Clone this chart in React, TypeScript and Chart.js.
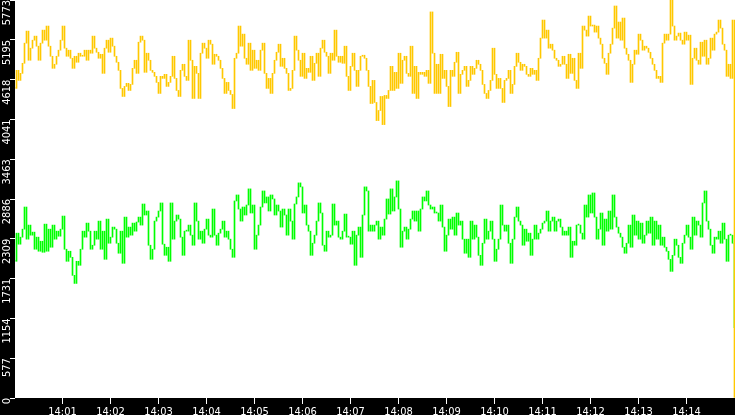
import { useEffect, useRef } from "react";
import { Chart, registerables } from "chart.js";

Chart.register(...registerables);

// seconds after 14:00:00, one sample every 2.5 s
const SAMPLE_STEP_SECONDS = 2.5;

const xTickSeconds = [60, 120, 180, 240, 300, 360, 420, 480, 540, 600, 660, 720, 780, 840];
const xTickLabels = ["14:01", "14:02", "14:03", "14:04", "14:05", "14:06", "14:07", "14:08", "14:09", "14:10", "14:11", "14:12", "14:13", "14:14"];
const yTickValues = [0, 577, 1154, 1731, 2309, 2886, 3463, 4041, 4618, 5195, 5773];

const yellowSeries = [
  4491, 4753, 4607, 4709, 4855, 5147, 5322, 4899, 5074, 5190,
  5249, 5103, 4899, 5147, 5336, 5190, 5395, 5103, 4957, 4782,
  4841, 4957, 5045, 5190, 5395, 5074, 4957, 5045, 4928, 4782,
  4957, 4870, 5001, 4957, 4957, 5045, 4899, 5045, 5001, 5249,
  5074, 5015, 4928, 4986, 4709, 5074, 5190, 5015, 5220, 5103,
  4957, 4870, 4753, 4491, 4374, 4520, 4564, 4461, 4549, 4782,
  4899, 4709, 5161, 5249, 5190, 4724, 5001, 4899, 4753, 4724,
  4666, 4578, 4418, 4666, 4636, 4695, 4520, 4578, 4666, 4957,
  4636, 4461, 4374, 4753, 4841, 4666, 4607, 5190, 4899, 4345,
  4811, 4709, 4345,
  5001, 5147, 5074, 4928, 5190, 5132, 4841, 4986, 4957, 4899,
  4782, 4636, 4418, 4578, 4461, 4403, 4199, 4928, 5001, 5395,
  5103, 5278, 4928, 4841, 5147, 4753, 5045, 4782, 4899, 4753,
  5045, 5147, 4709, 4491, 4636, 4418, 4709, 4899, 5015, 5132,
  4811, 4928, 4782, 4709, 4461, 4491, 4753, 5249, 5045, 4899,
  4666, 5001, 4636, 4782, 4724, 4957, 4607, 4855, 5001, 4666,
  5074, 5190, 5015, 4957, 4709, 5001, 4899, 5336, 4957, 4870,
  4957, 4855, 5103, 4666, 4461, 4811, 5001, 4753, 4520, 4753,
  4957, 4972, 4928, 4753, 4520, 4272, 4607, 4287, 4024, 4170,
  4374, 3966, 4389, 4345, 4461, 4811, 4461, 4724, 4491, 5001,
  4564, 4899, 4957, 4709, 4666, 5103, 4418, 4811, 4345, 4724,
  4695, 4724, 4666, 4753, 4564, 5600, 5001, 4418, 4841, 4418,
  4986, 4636, 4753, 4520, 4228, 4753, 4666, 4870, 5015, 4418,
  4695,
  4753, 4811, 4520, 4607, 4811, 4695, 4782, 4899, 4841, 4753,
  4549, 4418, 4345, 4461, 4607, 5074, 4695, 4491, 4636, 4491,
  4287, 4607, 4636, 4753, 4418, 4549, 4811, 5001, 4870, 4753,
  4841, 4811, 4695, 4666, 4782, 4695, 4753, 4607, 4928, 5220,
  5482, 5220, 5336, 5074, 5132, 5045, 4928, 4899, 4811, 4841,
  4957, 4841, 4636, 4986, 4709, 4928, 4607, 4491, 5001, 4782,
  5395, 5336, 5249, 5540, 5395, 5409, 5307, 5395, 5220, 5132,
  4928, 4855, 4695, 5001, 5132, 5365, 5686, 5220, 5453, 5190,
  5511, 5074, 4986, 4899, 4578, 4841, 5045, 4986, 5278, 5190,
  5045, 5103, 5074, 5015, 4928, 4841, 4753, 4636, 4666, 4578,
  5147, 5278, 5190, 5278, 5773, 5395, 5190, 5249, 5293, 5190,
  5132, 5307, 5190, 5263, 4549, 4928, 5074, 4899, 4841, 5161,
  4957, 5190, 4841, 4928, 5220, 5045, 5278, 5307, 5482, 5365,
  5132, 5045, 4666, 4841, 4636, 5482,
  0,
];

const greenSeries = [
  1983, 2391, 2231, 2333, 2449, 2770, 2304, 2508, 2362, 2406,
  2158, 2333, 2129, 2274, 2114, 2522, 2129, 2449, 2187, 2508,
  2304, 2420, 2347, 2449, 2639, 2158, 1983, 2129, 2041, 1779,
  1662, 1983, 1925, 2158, 2420, 2333, 2537, 2420, 2158, 2216,
  2420, 2304, 2566, 2158, 2420, 2012, 2595, 2245, 2333, 2479,
  2449, 2245, 2100, 2420, 1954, 2624, 2333, 2479, 2362, 2537,
  2420, 2552, 2624, 2508, 2814, 2654, 2712, 2216, 2012, 2158,
  2566, 2624, 2712, 2829, 2231, 2070, 2187, 1983, 2829, 2304,
  2566, 2654, 2595, 2333, 2070, 2420, 2420, 2508, 2362, 2216,
  2829, 2566, 2304, 2420, 2245, 2449, 2595, 2362, 2333, 2741,
  2362, 2216, 2391, 2449, 2566, 2333, 2420, 2304, 2158, 2041,
  2858, 2945, 2741, 2566, 2770, 2654, 2799, 3033, 2683, 2799,
  2158, 2362, 2508, 2770, 3003, 2829, 2916, 2712, 2945, 2887,
  2654, 2799, 2712, 2479, 2741, 2654, 2362, 2741, 2566, 2304,
  2814, 2916, 3120, 3062, 2683, 2799, 2508, 2420, 2070, 2245,
  2362, 2566, 2829, 2683, 2216, 2129, 2420, 2333, 2362, 2814,
  2508, 2566, 2333, 2304, 2420, 2668, 2333, 2333, 2231, 2420,
  1925, 2362, 2479, 2041, 2654, 3062, 3003, 2420, 2508, 2420,
  2508, 2566, 2304, 2479, 2362, 2595, 2887, 2668, 3033, 2712,
  2916, 3149, 2741, 2187, 2420, 2479, 2304, 2449, 2595, 2712,
  2566, 2712, 2420, 2741, 2916, 2858, 3003, 2799, 2741, 2770,
  2683, 2683, 2566, 2799, 2479, 2129, 2362, 2595, 2449, 2624,
  2362, 2683, 2508, 2566, 2304, 2100, 2304, 2041, 2566, 2304,
  2508, 2333, 2070, 1925, 2245, 2595, 2304, 2420, 2566, 2304,
  1983, 2158, 2304, 2799, 2508, 2420, 2508, 2245, 1954, 2304,
  2624, 2770, 2566, 2508, 2216, 2449, 2274, 2391, 2070, 2304,
  2508, 2304, 2391, 2449, 2537, 2566, 2712, 2420, 2566, 2624,
  2420, 2566, 2595, 2479, 2362, 2420, 2362, 2479, 2041, 2274,
  2216, 2508, 2508, 2391, 2304, 2799, 2624, 2945, 2683, 2974,
  2624, 2304, 2449, 2683, 2216, 2595, 2420, 2712, 2449, 2945,
  2624, 2479, 2391, 2333, 2187, 2100, 2245, 2508, 2187, 2654,
  2362, 2566, 2304, 2537, 2245, 2362, 2566, 2391, 2624, 2216,
  2566, 2304, 2508, 2216, 2333, 2187, 2129, 2012, 1837, 2070,
  2304, 2216, 2041, 1954, 2245, 2362, 2508, 2333, 2158, 2624,
  2362, 2566, 2508, 2333, 2829, 3003, 2566, 2449, 2216, 2100,
  2333, 2304, 2420, 2245, 2537, 2304, 1983, 2362, 2362, 2245,
  1020,
];

const FONT_FAMILY = "'DejaVu Sans Condensed', 'DejaVu Sans', sans-serif";

const backgroundPlugin = {
  id: "blackFrame",
  beforeDraw(chart: any) {
    const { ctx, width, height, chartArea } = chart;
    ctx.save();
    ctx.fillStyle = "#000000";
    ctx.fillRect(0, 0, width, height);
    ctx.fillStyle = "#ffffff";
    ctx.fillRect(
      chartArea.left,
      chartArea.top,
      chartArea.right - chartArea.left,
      chartArea.bottom - chartArea.top
    );
    ctx.restore();
  },
};

// each sample becomes a vertical stroke from the previous sample to itself
const toStrokes = (series: number[]) =>
  series.map((v, i) => ({
    x: i * SAMPLE_STEP_SECONDS,
    y: [i > 0 ? series[i - 1] : v, v],
  }));

export default function App() {
  const canvasRef = useRef<HTMLCanvasElement | null>(null);

  useEffect(() => {
    const canvas = canvasRef.current;
    if (!canvas) return;

    const common = {
      type: "bar",
      barThickness: 1,
      minBarLength: 1,
      borderWidth: 0,
      grouped: false,
    };

    const chart = new Chart(canvas, {
      type: "bar",
      data: {
        datasets: [
          {
            ...common,
            label: "yellow",
            data: toStrokes(yellowSeries),
            backgroundColor: "#ffc800",
          },
          {
            ...common,
            label: "green",
            data: toStrokes(greenSeries),
            backgroundColor: "#00ff00",
          },
        ],
      },
      options: {
        animation: false,
        responsive: false,
        devicePixelRatio: 1,
        layout: { padding: 0 },
        plugins: {
          legend: { display: false },
          tooltip: { enabled: false },
          title: { display: false },
        },
        scales: {
          x: {
            type: "linear",
            offset: false,
            min: 0.625,
            max: 900.625,
            afterBuildTicks: (scale: any) => {
              scale.ticks = xTickSeconds.map((v) => ({ value: v }));
            },
            afterFit: (scale: any) => {
              scale.height = 17;
              scale.paddingLeft = 0;
              scale.paddingRight = 0;
            },
            ticks: {
              color: "#ffffff",
              font: { family: FONT_FAMILY, size: 11 },
              padding: 2,
              minRotation: 0,
              maxRotation: 0,
              autoSkip: false,
              callback: (_v: any, i: number) => xTickLabels[i],
            },
            grid: {
              display: true,
              offset: false,
              drawOnChartArea: false,
              drawTicks: true,
              tickLength: 6,
              color: "#ffffff",
              lineWidth: 1,
            },
            border: { display: false },
          },
          y: {
            type: "linear",
            min: 0,
            max: 5773,
            afterBuildTicks: (scale: any) => {
              scale.ticks = yTickValues.map((v) => ({ value: v }));
            },
            afterFit: (scale: any) => {
              scale.width = 15;
              scale.paddingTop = 0;
              scale.paddingBottom = 0;
            },
            ticks: {
              color: "#ffffff",
              font: { family: FONT_FAMILY, size: 11 },
              padding: 3,
              minRotation: 90,
              maxRotation: 90,
              autoSkip: false,
              callback: (_v: any, i: number) => String(yTickValues[i]),
            },
            grid: {
              display: true,
              drawOnChartArea: false,
              drawTicks: true,
              tickLength: 5,
              color: "#ffffff",
              lineWidth: 1,
            },
            border: { display: false },
          },
        },
      },
      plugins: [backgroundPlugin],
    } as any);

    return () => chart.destroy();
  }, []);

  return (
    <div style={{ position: "absolute", left: 0, top: 0, width: 735, height: 415 }}>
      <canvas ref={canvasRef} width={735} height={415} style={{ display: "block" }} />
    </div>
  );
}
